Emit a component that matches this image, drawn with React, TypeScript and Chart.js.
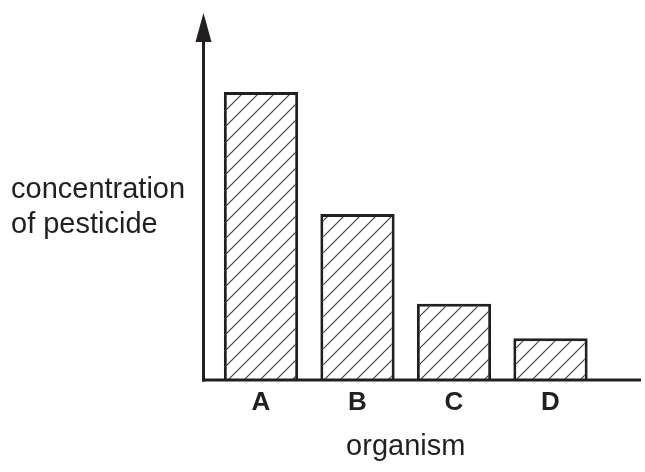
import React, { useEffect, useRef } from "react";
import { Chart, registerables } from "chart.js";

Chart.register(...registerables);

const categories = ["A", "B", "C", "D"];
const concentration = [8.47, 4.88, 2.24, 1.23];
const yAxisMax = 10;
const yTitleLines = ["concentration", "of pesticide"];
const xTitle = "organism";

const INK = "#231f20";
const FONT = "'Liberation Sans', Arial, Helvetica, sans-serif";

function makeHatch(): CanvasPattern | string {
  const size = 16;
  const c = document.createElement("canvas");
  c.width = size;
  c.height = size;
  const g = c.getContext("2d");
  if (!g) return "#fff";
  g.fillStyle = "#ffffff";
  g.fillRect(0, 0, size, size);
  g.strokeStyle = "#3a3a3a";
  g.lineWidth = 1.1;
  g.beginPath();
  g.moveTo(-2, size + 2);
  g.lineTo(size + 2, -2);
  g.moveTo(-2, 2);
  g.lineTo(2, -2);
  g.moveTo(size - 2, size + 2);
  g.lineTo(size + 2, size - 2);
  g.stroke();
  const p = g.createPattern(c, "repeat");
  return p || "#fff";
}

const axesPlugin = {
  id: "customAxes",
  afterDatasetsDraw(chart: any) {
    const { ctx, chartArea } = chart;
    const yAxisX = 203.5;
    const base = chartArea.bottom;
    ctx.save();
    ctx.strokeStyle = INK;
    ctx.fillStyle = INK;
    ctx.lineWidth = 3;
    // x axis
    ctx.beginPath();
    ctx.moveTo(yAxisX - 1.5, base);
    ctx.lineTo(641, base);
    ctx.stroke();
    // y axis
    ctx.beginPath();
    ctx.moveTo(yAxisX, base + 1.5);
    ctx.lineTo(yAxisX, 36);
    ctx.stroke();
    // arrow head
    ctx.beginPath();
    ctx.moveTo(yAxisX, 13);
    ctx.lineTo(yAxisX + 8, 42);
    ctx.lineTo(yAxisX - 8, 42);
    ctx.closePath();
    ctx.fill();
    // y title (horizontal)
    ctx.font = `29px ${FONT}`;
    ctx.textAlign = "left";
    ctx.textBaseline = "alphabetic";
    ctx.fillText(yTitleLines[0], 11, 198);
    ctx.fillText(yTitleLines[1], 11, 233);
    ctx.restore();
  },
};

export default function App() {
  const canvasRef = useRef<HTMLCanvasElement | null>(null);

  useEffect(() => {
    const canvas = canvasRef.current;
    if (!canvas) return;
    const hatch = makeHatch();
    const chart = new Chart(canvas, {
      type: "bar",
      data: {
        labels: categories,
        datasets: [
          {
            data: concentration,
            backgroundColor: hatch as any,
            borderColor: INK,
            borderWidth: 3,
            borderSkipped: "start",
            barPercentage: 0.77,
            categoryPercentage: 1,
          },
        ],
      },
      options: {
        responsive: false,
        animation: false,
        events: [],
        layout: {
          padding: { left: 212.75, right: 46.25, top: 40, bottom: 3.6 },
        },
        plugins: {
          legend: { display: false },
          tooltip: { enabled: false },
        },
        scales: {
          x: {
            display: true,
            offset: true,
            grid: { display: false, drawTicks: false },
            border: { display: false },
            ticks: {
              color: INK,
              padding: 7.2,
              font: { family: FONT, size: 26, weight: "bold" },
            },
            title: {
              display: true,
              text: xTitle,
              color: INK,
              padding: { top: 4, bottom: 4 },
              font: { family: FONT, size: 29 },
            },
          },
          y: {
            display: false,
            min: 0,
            max: yAxisMax,
          },
        },
      },
      plugins: [axesPlugin],
    });
    return () => chart.destroy();
  }, []);

  return (
    <div style={{ position: "absolute", left: 0, top: 0, width: 645, height: 472, background: "#fff" }}>
      <canvas ref={canvasRef} width={645} height={472} style={{ display: "block" }} />
    </div>
  );
}
